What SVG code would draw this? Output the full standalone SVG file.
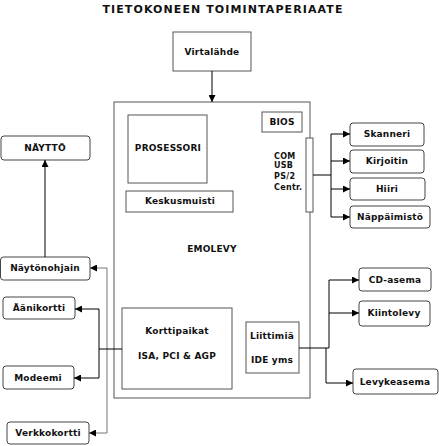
<svg xmlns="http://www.w3.org/2000/svg" width="439" height="446" viewBox="0 0 439 446">
<defs>
<marker id="ah" viewBox="0 0 10 10" refX="10" refY="5" markerWidth="7" markerHeight="7" markerUnits="userSpaceOnUse" orient="auto">
<path d="M0,0 L10,5 L0,10 Z" fill="#000"/>
</marker>
<style>
text{font-family:"DejaVu Sans",Verdana,sans-serif;font-weight:bold;font-size:9px;fill:#111;text-anchor:middle;letter-spacing:0.2px}
.t{font-size:11px;letter-spacing:1.1px}
.s{font-size:8px;text-anchor:start;letter-spacing:0.3px}
.box{fill:#fff;stroke:#555;stroke-width:1}
.rbox{fill:#fff;stroke:#444;stroke-width:1}
.ln{fill:none;stroke:#000;stroke-width:1}
.gl{fill:none;stroke:#777;stroke-width:1}
.arr{marker-end:url(#ah)}
</style>
</defs>
<rect width="439" height="446" fill="#fff"/>
<text class="t" x="223" y="13">TIETOKONEEN TOIMINTAPERIAATE</text>

<g id="emolevy">
<rect class="box" x="114" y="102" width="196" height="296"/>
<text x="212" y="252">EMOLEVY</text>
</g>
<g id="virtalahde">
<rect class="box" x="173" y="32" width="78" height="39"/>
<text x="212" y="55">Virtalähde</text>
</g>
<g id="prosessori">
<rect class="box" x="128" y="115" width="79" height="68"/>
<text x="168" y="151">PROSESSORI</text>
</g>
<g id="bios">
<rect class="box" x="262" y="112" width="40" height="20"/>
<text x="282" y="125">BIOS</text>
</g>
<g id="keskusmuisti">
<rect class="box" x="126" y="191" width="107" height="21"/>
<text x="180" y="204">Keskusmuisti</text>
</g>
<g id="portit">
<rect class="box" x="306" y="138" width="7" height="74"/>
<text class="s" x="274" y="159">COM</text>
<text class="s" x="274" y="168">USB</text>
<text class="s" x="274" y="179">PS/2</text>
<text class="s" x="274" y="190">Centr.</text>
</g>
<g id="korttipaikat">
<rect class="box" x="122" y="308" width="110" height="81"/>
<text x="177" y="334">Korttipaikat</text>
<text x="177" y="359">ISA, PCI &amp; AGP</text>
</g>
<g id="liittimia">
<rect class="box" x="246" y="322" width="53" height="51"/>
<text x="272" y="339">Liittimiä</text>
<text x="272" y="363">IDE yms</text>
</g>
<g id="naytto">
<rect class="rbox" x="1" y="136" width="89" height="24" rx="3"/>
<text x="45" y="151">NÄYTTÖ</text>
</g>
<g id="naytonohjain">
<rect class="rbox" x="0.5" y="257" width="89.5" height="23" rx="3"/>
<text x="45" y="271">Näytönohjain</text>
</g>
<g id="aanikortti">
<rect class="rbox" x="3" y="297" width="72" height="22" rx="3"/>
<text x="39" y="311">Äänikortti</text>
</g>
<g id="modeemi">
<rect class="rbox" x="3" y="366" width="71" height="23" rx="3"/>
<text x="38" y="381">Modeemi</text>
</g>
<g id="verkkokortti">
<rect class="rbox" x="7" y="422" width="82" height="22" rx="3"/>
<text x="48" y="436">Verkkokortti</text>
</g>
<g id="skanneri">
<rect class="rbox" x="350" y="123" width="74" height="23" rx="3"/>
<text x="387" y="137">Skanneri</text>
</g>
<g id="kirjoitin">
<rect class="rbox" x="350" y="150" width="74" height="23" rx="3"/>
<text x="387" y="164">Kirjoitin</text>
</g>
<g id="hiiri">
<rect class="rbox" x="350" y="178" width="75" height="22" rx="3"/>
<text x="387" y="192">Hiiri</text>
</g>
<g id="nappaimisto">
<rect class="rbox" x="350" y="206" width="80" height="22" rx="3"/>
<text x="390" y="220">Näppäimistö</text>
</g>
<g id="cdasema">
<rect class="rbox" x="359" y="268" width="72" height="23" rx="3"/>
<text x="395" y="283">CD-asema</text>
</g>
<g id="kiintolevy">
<rect class="rbox" x="359" y="301" width="71" height="25" rx="3"/>
<text x="394" y="316">Kiintolevy</text>
</g>
<g id="levykeasema">
<rect class="rbox" x="353" y="369" width="85" height="25" rx="3"/>
<text x="395" y="385">Levykeasema</text>
</g>

<g id="connectors">
<path class="ln arr" d="M212,71 V102"/>
<path class="ln arr" d="M45,257 V160"/>
<path class="gl" d="M107,268 V433"/>
<path class="gl arr" d="M107,268 H90"/>
<path class="gl arr" d="M107,433 H89"/>
<path class="ln" d="M99,309 V378"/>
<path class="ln arr" d="M99,309 H75"/>
<path class="ln arr" d="M99,378 H74"/>
<path class="ln" d="M99,349 H122" stroke-width="2"/>
<path class="ln" d="M313,175 H331 M331,134 V217"/>
<path class="ln arr" d="M331,134 H350"/>
<path class="ln arr" d="M331,161 H350"/>
<path class="ln arr" d="M331,189 H350"/>
<path class="ln arr" d="M331,217 H350"/>
<path class="ln" d="M299,348 H329 V280"/>
<path class="ln arr" d="M329,280 H359"/>
<path class="ln arr" d="M329,313 H359"/>
<path class="ln arr" d="M326,348 V383 H353"/>
</g>
</svg>
